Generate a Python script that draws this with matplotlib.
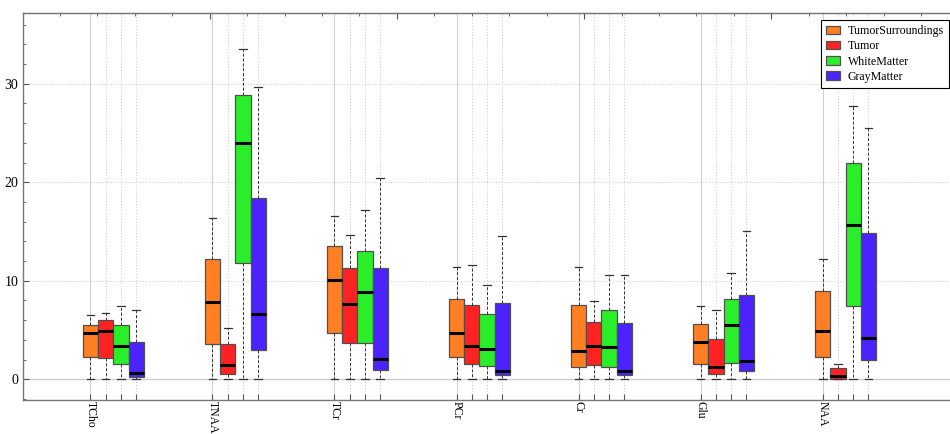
import numpy as np
import matplotlib.pyplot as plt
from matplotlib.patches import Patch

# ---------- data ----------
metabolites = ["TCho", "TNAA", "TCr", "PCr", "Cr", "Glu", "NAA"]
tissues = ["TumorSurroundings", "Tumor", "WhiteMatter", "GrayMatter"]
colors = ["#ff7f22", "#ff2222", "#2aee2a", "#4c22ff"]

# per tissue: one value per metabolite
whis_hi = {
    "TumorSurroundings": [6.5, 16.4, 16.55, 11.4, 11.4, 7.4, 12.25],
    "Tumor":             [6.75, 5.25, 14.65, 11.65, 7.95, 7.0, 1.6],
    "WhiteMatter":       [7.45, 33.5, 17.2, 9.55, 10.55, 10.75, 27.75],
    "GrayMatter":        [7.0, 29.65, 20.45, 14.55, 10.55, 15.1, 25.5],
}
q3 = {
    "TumorSurroundings": [5.55, 12.25, 13.5, 8.1, 7.55, 5.65, 9.0],
    "Tumor":             [6.0, 3.55, 11.25, 7.55, 5.85, 4.1, 1.15],
    "WhiteMatter":       [5.5, 28.8, 13.05, 6.6, 7.0, 8.2, 21.9],
    "GrayMatter":        [3.8, 18.4, 11.25, 7.7, 5.75, 8.55, 14.85],
}
median = {
    "TumorSurroundings": [4.65, 7.85, 10.05, 4.75, 2.85, 3.8, 4.9],
    "Tumor":             [4.9, 1.5, 7.6, 3.35, 3.4, 1.2, 0.35],
    "WhiteMatter":       [3.4, 23.95, 8.85, 3.1, 3.25, 5.5, 15.65],
    "GrayMatter":        [0.6, 6.6, 2.05, 0.85, 0.85, 1.9, 4.2],
}
q1 = {
    "TumorSurroundings": [2.3, 3.55, 4.75, 2.25, 1.2, 1.6, 2.25],
    "Tumor":             [2.2, 0.55, 3.7, 1.6, 1.45, 0.55, 0.0],
    "WhiteMatter":       [1.55, 11.8, 3.7, 1.35, 1.3, 1.7, 7.45],
    "GrayMatter":        [0.25, 3.0, 0.95, 0.4, 0.4, 0.85, 2.0],
}
whis_lo = {t: [0.0] * len(metabolites) for t in tissues}

# ---------- figure ----------
plt.rcParams["font.family"] = ["Liberation Serif", "DejaVu Serif"]
fig = plt.figure(figsize=(9.5, 4.34), dpi=100)
ax = fig.add_axes([0.0237, 0.0783, 0.982, 0.8924])

group_step = 8
for k, t in enumerate(tissues):
    stats = []
    for g in range(len(metabolites)):
        stats.append(dict(med=median[t][g], q1=q1[t][g], q3=q3[t][g],
                          whislo=whis_lo[t][g], whishi=whis_hi[t][g], fliers=[]))
    pos = np.arange(len(metabolites)) * group_step + k
    ax.bxp(stats, positions=pos, widths=1.0, patch_artist=True,
           showfliers=False, manage_ticks=False,
           boxprops=dict(facecolor=colors[k], edgecolor="#505050", linewidth=0.9),
           medianprops=dict(color="black", linewidth=2.2),
           whiskerprops=dict(color="#333333", linewidth=0.7, linestyle=(0, (3, 2))),
           capprops=dict(color="#333333", linewidth=0.9),
           capwidths=0.5, zorder=3)

# grid lines
all_pos = np.arange(len(metabolites))[:, None] * group_step + np.arange(len(tissues))
for p in all_pos.ravel():
    ax.axvline(p, color="#c8c8c8", linewidth=0.7, linestyle=(0, (1, 2)), zorder=0)
for p in all_pos[:, 0]:
    ax.axvline(p, color="#d0d0d0", linewidth=0.8, zorder=0)
for yv in [10, 20, 30]:
    ax.axhline(yv, color="#c8c8c8", linewidth=0.7, linestyle=(0, (1, 2)), zorder=0)
ax.axhline(0, color="#cccccc", linewidth=1.0, zorder=0)

ax.set_xlim(-4.45, 56.7)
ax.set_ylim(-2.1, 37.2)

# ticks
ax.set_yticks([0, 10, 20, 30])
ax.set_yticks(np.arange(-2, 37, 2), minor=True)
ax.tick_params(axis="y", which="major", direction="in", length=4, width=0.8,
               color="#555555", labelsize=10, pad=3)
ax.tick_params(axis="y", which="minor", direction="in", length=2.5, width=0.6,
               color="#555555")
ax.set_xticks(all_pos.ravel())
ax.set_xticklabels([m if k == 0 else "" for m in metabolites for k in range(4)],
                   rotation=-90, fontsize=8.5)
ax.tick_params(axis="x", direction="in", length=4, width=0.8, color="#555555", pad=1)
ax.tick_params(axis="x", which="minor", bottom=False)

top = ax.secondary_xaxis("top", functions=(lambda x: (x + 4.45) / 12.27,
                                           lambda u: u * 12.27 - 4.45))
top.set_xticks([1, 2, 3, 4])
top.set_xticks(np.arange(0.2, 5, 0.2), minor=True)
top.set_xticklabels([])
top.tick_params(which="major", direction="in", length=4, width=0.8, color="#555555")
top.tick_params(which="minor", direction="in", length=2.5, width=0.6, color="#555555")
top.spines["top"].set_color("#777777")

for s in ax.spines.values():
    s.set_color("#777777")
    s.set_linewidth(1.0)

handles = [Patch(facecolor=c, edgecolor="#505050", linewidth=0.9, label=t)
           for c, t in zip(colors, tissues)]
leg = fig.legend(handles=handles, loc="upper right", bbox_to_anchor=(0.999, 0.954),
                 fontsize=8.6, frameon=True, fancybox=False, framealpha=1,
                 edgecolor="black", handlelength=1.2, handleheight=0.7,
                 labelspacing=0.26, borderpad=0.45, handletextpad=0.6,
                 borderaxespad=0)
leg.get_frame().set_linewidth(0.8)

plt.savefig("out.png", dpi=100)
